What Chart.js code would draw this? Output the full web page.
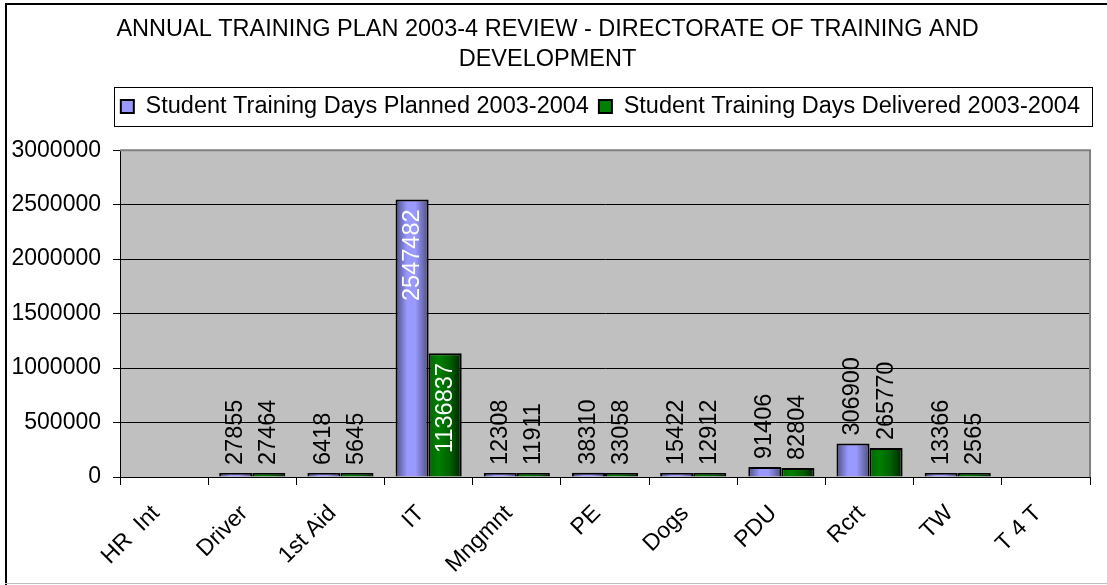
<!DOCTYPE html>
<html>
<head>
<meta charset="utf-8">
<title>Annual Training Plan 2003-4 Review</title>
<script src="https://cdn.jsdelivr.net/npm/chart.js@4/dist/chart.umd.min.js"></script>
<style>
  html, body { margin: 0; padding: 0; background: #fff; }
</style>
</head>
<body>
<canvas id="training_chart" width="1107" height="585"></canvas>
<script>
const categories = ["HR  Int", "Driver", "1st Aid", "IT", "Mngmnt", "PE", "Dogs", "PDU", "Rcrt", "TW", "T 4 T"];
const plannedDays = [null, 27855, 6418, 2547482, 12308, 38310, 15422, 91406, 306900, 13366, null];
const deliveredDays = [null, 27464, 5645, 1136837, 11911, 33058, 12912, 82804, 265770, 2565, null];
const yTickValues = [0, 500000, 1000000, 1500000, 2000000, 2500000, 3000000];

const FONT = "Arial, 'Liberation Sans', sans-serif";

// colour stops for the shaded (cylinder-like) bars
const plannedShade = [[0, "#4d4d80"], [0.35, "#9999ff"], [0.6, "#9999ff"], [1, "#4d4d80"]];
const deliveredShade = [[0, "#006600"], [0.3, "#008000"], [0.65, "#006000"], [1, "#002200"]];

// white sheet with the black/grey frame and the grey plot area
const framePlugin = {
  id: "frame",
  beforeDraw(chart) {
    const { ctx, chartArea: a } = chart;
    ctx.save();
    ctx.fillStyle = "#fff";
    ctx.fillRect(0, 0, chart.width, chart.height);
    ctx.fillStyle = "#000";
    ctx.fillRect(5, 3, chart.width - 5, 2);
    ctx.fillRect(5, 3, 2, chart.height - 3);
    ctx.fillStyle = "#c0c0c0";
    ctx.fillRect(5, chart.height - 2, chart.width - 5, 1);
    ctx.fillRect(a.left, a.top, a.right - a.left, a.bottom - a.top);
    ctx.restore();
  },
  afterDatasetsDraw(chart) {
    const { ctx, chartArea: a } = chart;
    ctx.save();
    ctx.strokeStyle = "#808080";
    ctx.lineWidth = 2;
    ctx.beginPath();
    ctx.moveTo(a.left, a.top);
    ctx.lineTo(a.right, a.top);
    ctx.lineTo(a.right, a.bottom);
    ctx.stroke();
    ctx.restore();
  }
};

// horizontal gradient per bar
const shadePlugin = {
  id: "shade",
  beforeDatasetsDraw(chart) {
    const ctx = chart.ctx;
    [plannedShade, deliveredShade].forEach((stops, di) => {
      chart.getDatasetMeta(di).data.forEach((bar) => {
        const half = bar.width / 2;
        const g = ctx.createLinearGradient(bar.x - half, 0, bar.x + half, 0);
        stops.forEach(([p, c]) => g.addColorStop(p, c));
        bar.options = { ...bar.options, backgroundColor: g };
      });
    });
  }
};

// vertical value labels: inside the bar top in white when they fit, else above it
const valueLabels = {
  id: "valueLabels",
  afterDatasetsDraw(chart) {
    const ctx = chart.ctx;
    ctx.save();
    ctx.font = "23.5px " + FONT;
    ctx.textBaseline = "middle";
    chart.data.datasets.forEach((ds, di) => {
      chart.getDatasetMeta(di).data.forEach((bar, i) => {
        const v = ds.data[i];
        if (v == null) return;
        const text = String(v);
        const w = ctx.measureText(text).width;
        const h = bar.base - bar.y;
        ctx.save();
        if (h > w + 20) {
          ctx.translate(bar.x, bar.y + 10);
          ctx.rotate(-Math.PI / 2);
          ctx.textAlign = "right";
          ctx.fillStyle = "#fff";
        } else {
          ctx.translate(bar.x, bar.y - 8);
          ctx.rotate(-Math.PI / 2);
          ctx.textAlign = "left";
          ctx.fillStyle = "#000";
        }
        ctx.fillText(text, 0, 0);
        ctx.restore();
      });
    });
    ctx.restore();
  }
};

// box round the legend items
const legendFrame = {
  id: "legendFrame",
  afterDraw(chart) {
    const hits = chart.legend && chart.legend.legendHitBoxes;
    if (!hits || !hits.length) return;
    const first = hits[0];
    const last = hits[hits.length - 1];
    const ctx = chart.ctx;
    ctx.save();
    ctx.strokeStyle = "#000";
    ctx.lineWidth = 1;
    const x0 = Math.round(first.left - 7) + 0.5;
    const x1 = Math.round(last.left + last.width + 12) + 0.5;
    const y0 = Math.round(first.top - 8) + 0.5;
    const y1 = Math.round(first.top + first.height + 8) + 0.5;
    ctx.strokeRect(x0, y0, x1 - x0, y1 - y0);
    ctx.restore();
  }
};

const data = {
  labels: categories,
  datasets: [
    {
      label: "Student Training Days Planned 2003-2004",
      data: plannedDays,
      xAxisID: "x",
      backgroundColor: "#9999ff",
      borderColor: "#000",
      borderWidth: 2,
      borderSkipped: "bottom",
      minBarLength: 4,
      categoryPercentage: 0.75,
      barPercentage: 1.0,
    },
    {
      label: "Student Training Days Delivered 2003-2004",
      data: deliveredDays,
      xAxisID: "x",
      backgroundColor: "#008000",
      borderColor: "#000",
      borderWidth: 2,
      borderSkipped: "bottom",
      minBarLength: 4,
      categoryPercentage: 0.75,
      barPercentage: 1.0,
    },
  ],
};

const config = {
  type: "bar",
  data: data,
  options: {
    responsive: false,
    animation: false,
    devicePixelRatio: 1,
    layout: { padding: { left: 5, right: 17, top: 0, bottom: 0 } },
    scales: {
      x: {
        afterFit(scale) { scale.height = 108; },
        grid: {
          display: true,
          drawOnChartArea: false,
          color: "#000",
          tickLength: 8,
          offset: true,
        },
        border: { color: "#000", width: 1 },
        ticks: {
          color: "#000",
          font: { family: FONT, size: 23 },
          minRotation: 45,
          maxRotation: 45,
          autoSkip: false,
          padding: 15,
          labelOffset: -8,
        },
      },
      // empty band between the legend and the plot
      gap: {
        axis: "x",
        type: "category",
        position: "top",
        grid: { display: false },
        border: { display: false },
        ticks: { display: false },
        afterFit(scale) { scale.height = 22; },
      },
      y: {
        min: 0,
        max: 3000000,
        afterBuildTicks(axis) { axis.ticks = yTickValues.map((v) => ({ value: v })); },
        afterFit(scale) { scale.width = 115; },
        grid: { color: "#000", lineWidth: 1, tickLength: 7 },
        border: { color: "#000", width: 1 },
        ticks: {
          color: "#000",
          font: { family: FONT, size: 23 },
          padding: 12,
          callback: (v) => String(v),
        },
      },
    },
    plugins: {
      title: {
        display: true,
        text: ["ANNUAL TRAINING PLAN 2003-4 REVIEW - DIRECTORATE OF TRAINING AND", "DEVELOPMENT"],
        color: "#000",
        font: { family: FONT, size: 23.5, weight: "normal", lineHeight: 1.27 },
        padding: { top: 15, bottom: 10 },
      },
      legend: {
        position: "top",
        align: "end",
        labels: {
          color: "#000",
          font: { family: FONT, size: 23.5 },
          boxWidth: 13,
          boxHeight: 13,
          padding: 10,
        },
      },
      tooltip: { enabled: false },
    },
  },
  plugins: [framePlugin, shadePlugin, valueLabels, legendFrame],
};

new Chart(document.getElementById("training_chart"), config);
</script>
</body>
</html>
